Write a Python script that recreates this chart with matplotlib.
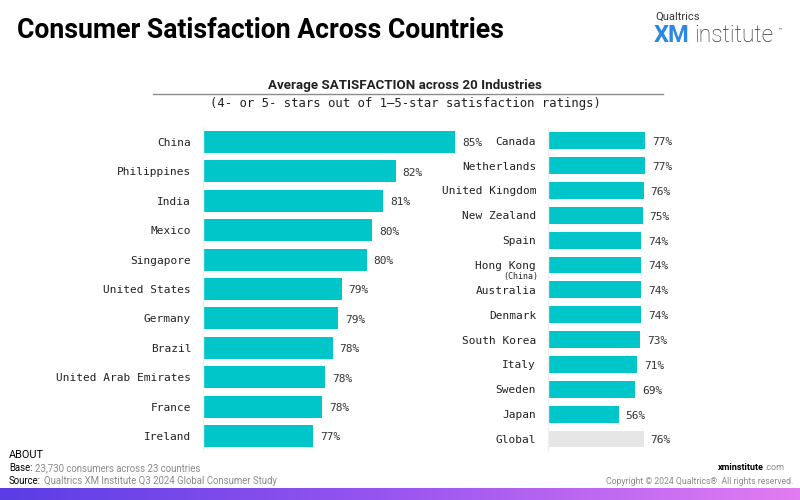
"""Consumer satisfaction across countries (Qualtrics XM Institute style)."""

import numpy as np
import matplotlib

matplotlib.use("Agg")
import matplotlib.pyplot as plt
from matplotlib.colors import LinearSegmentedColormap

# ---- data -----------------------------------------------------------------
left_countries = ["China", "Philippines", "India", "Mexico", "Singapore",
                  "United States", "Germany", "Brazil", "United Arab Emirates",
                  "France", "Ireland"]
# bar lengths (unrounded), labels as printed
left_values = [84.9, 81.6, 80.9, 80.3, 80.0, 78.6, 78.4, 78.1, 77.7, 77.5, 77.0]
left_labels = ["85%", "82%", "81%", "80%", "80%", "79%", "79%", "78%", "78%",
               "78%", "77%"]

right_countries = ["Canada", "Netherlands", "United Kingdom", "New Zealand",
                   "Spain", "Hong Kong", "Australia", "Denmark", "South Korea",
                   "Italy", "Sweden", "Japan", "Global"]
right_values = [77, 77, 76, 75, 74, 74, 74, 74, 73, 71, 69, 56, 76]

TEAL = "#00C5C9"
GREY_BAR = "#E6E6E6"
TXT = "#222222"
MONO = "DejaVu Sans Mono"
SANS = "Roboto"

W, H = 800, 500
fig = plt.figure(figsize=(8, 5), dpi=100)
fig.patch.set_facecolor("white")


def px_axes(x0, y0, x1, y1):
    """Axes from pixel box (top-left origin)."""
    return fig.add_axes([x0 / W, 1 - y1 / H, (x1 - x0) / W, (y1 - y0) / H])


def style(ax):
    for s in ("top", "right", "bottom"):
        ax.spines[s].set_visible(False)
    ax.spines["left"].set_color("#F0F0F0")
    ax.spines["left"].set_linewidth(1.0)
    ax.set_xticks([])
    ax.tick_params(axis="y", length=0, pad=8.5, labelsize=8, labelcolor=TXT)
    for t in ax.get_yticklabels():
        t.set_fontfamily(MONO)
    ax.set_facecolor("none")


# ---- left panel -------------------------------------------------------------
axl = px_axes(203, 127.3, 473, 450.7)
yl = np.arange(len(left_countries))
bl = axl.barh(yl, left_values, height=0.75, color=TEAL, left=0)
axl.set_xlim(70.9, 70.9 + 270 / 18)
axl.set_ylim(len(left_countries) - 0.5, -0.5)
axl.set_yticks(yl)
axl.set_yticklabels(left_countries)
style(axl)
for b, lab in zip(bl, left_labels):
    axl.annotate(lab, (b.get_width(), b.get_y() + b.get_height() / 2),
                 xytext=(5, -1), textcoords="offset points", va="center",
                 ha="left", fontsize=8, family=MONO, color="#333333")

# ---- right panel ------------------------------------------------------------
axr = px_axes(548, 128.3, 668, 451.4)
yr = np.arange(len(right_countries))
cols = [GREY_BAR if c == "Global" else TEAL for c in right_countries]
br = axr.barh(yr, right_values, height=0.68, color=cols)
axr.set_xlim(0, 120 / 1.26)
axr.set_ylim(len(right_countries) - 0.5, -0.5)
axr.set_yticks(yr)
axr.set_yticklabels(right_countries)
style(axr)
for b, v in zip(br, right_values):
    axr.annotate(f"{v}%", (b.get_width(), b.get_y() + b.get_height() / 2),
                 xytext=(5, -1), textcoords="offset points", va="center",
                 ha="left", fontsize=8, family=MONO, color="#333333")
# "(China)" under Hong Kong
hk = right_countries.index("Hong Kong")
axr.annotate("(China)", (0, hk), xytext=(-7, -8.5), textcoords="offset points",
             ha="right", va="center", fontsize=6, family=MONO, color=TXT)

# ---- titles -----------------------------------------------------------------
fig.text(17 / W, 1 - 30 / H, "Consumer Satisfaction Across Countries",
         family=SANS, fontsize=19.2, fontweight="bold", color="black",
         va="center", ha="left")
fig.text(405 / W, 1 - 86 / H, "Average SATISFACTION across 20 Industries",
         family=SANS, fontsize=9.6, fontweight="bold", color=TXT,
         va="center", ha="center")
fig.add_artist(plt.Line2D([153 / W, 663 / W], [1 - 94 / H] * 2,
                          color="#8C8C8C", linewidth=1.0))
fig.text(405 / W, 1 - 104 / H,
         "(4- or 5- stars out of 1\u20135-star satisfaction ratings)",
         family=MONO, fontsize=8.8, color=TXT, va="center", ha="center")

# ---- logo -------------------------------------------------------------------
fig.text(655 / W, 1 - 17 / H, "Qualtrics", family=SANS, fontsize=8,
         color="#333333", va="center", ha="left")
fig.text(654 / W, 1 - 36 / H, "XM", family=SANS, fontsize=17,
         fontweight="bold", color="#2A86E8", va="center", ha="left")
fig.text(694 / W, 1 - 36 / H, "institute", family=SANS, fontsize=16.5,
         fontweight="light", color="#333333", va="center", ha="left")
fig.text(779 / W, 1 - 30 / H, "\u2122", family=SANS, fontsize=4,
         color="#444444", va="center", ha="left")

# ---- footer -----------------------------------------------------------------
FS = 6.9
fig.text(9 / W, 1 - 455 / H, "ABOUT", family=SANS, fontsize=7.8,
         color="black", va="center", ha="left")
fig.text(9 / W, 1 - 468 / H, "Base:", family=SANS, fontsize=FS,
         color="black", va="center", ha="left")
fig.text(35 / W, 1 - 468 / H, "23,730 consumers across 23 countries",
         family=SANS, fontsize=FS, color="#8A8A8A", va="center", ha="left")
fig.text(9 / W, 1 - 481 / H, "Source:", family=SANS, fontsize=FS,
         color="black", va="center", ha="left")
fig.text(44 / W, 1 - 481 / H, "Qualtrics XM Institute Q3 2024 Global Consumer Study",
         family=SANS, fontsize=FS, color="#8A8A8A", va="center", ha="left")
fig.text(764 / W, 1 - 468 / H, "xminstitute", family=SANS, fontsize=6.5,
         fontweight="bold", color="black", va="center", ha="right")
fig.text(764.5 / W, 1 - 468 / H, ".com", family=SANS, fontsize=6.5,
         color="#8A8A8A", va="center", ha="left")
fig.text(793 / W, 1 - 481 / H, "Copyright \u00a9 2024 Qualtrics\u00ae. All rights reserved.",
         family=SANS, fontsize=6.2, color="#8A8A8A", va="center", ha="right")

# ---- bottom gradient band ----------------------------------------------------
axg = fig.add_axes([0, 0, 1, 12 / H])
cmap = LinearSegmentedColormap.from_list("band", ["#5A3DE4", "#9A56F0", "#E27CF2"])
axg.imshow(np.linspace(0, 1, 256)[None, :], aspect="auto", cmap=cmap)
axg.set_axis_off()

fig.savefig("out.png", dpi=100)
